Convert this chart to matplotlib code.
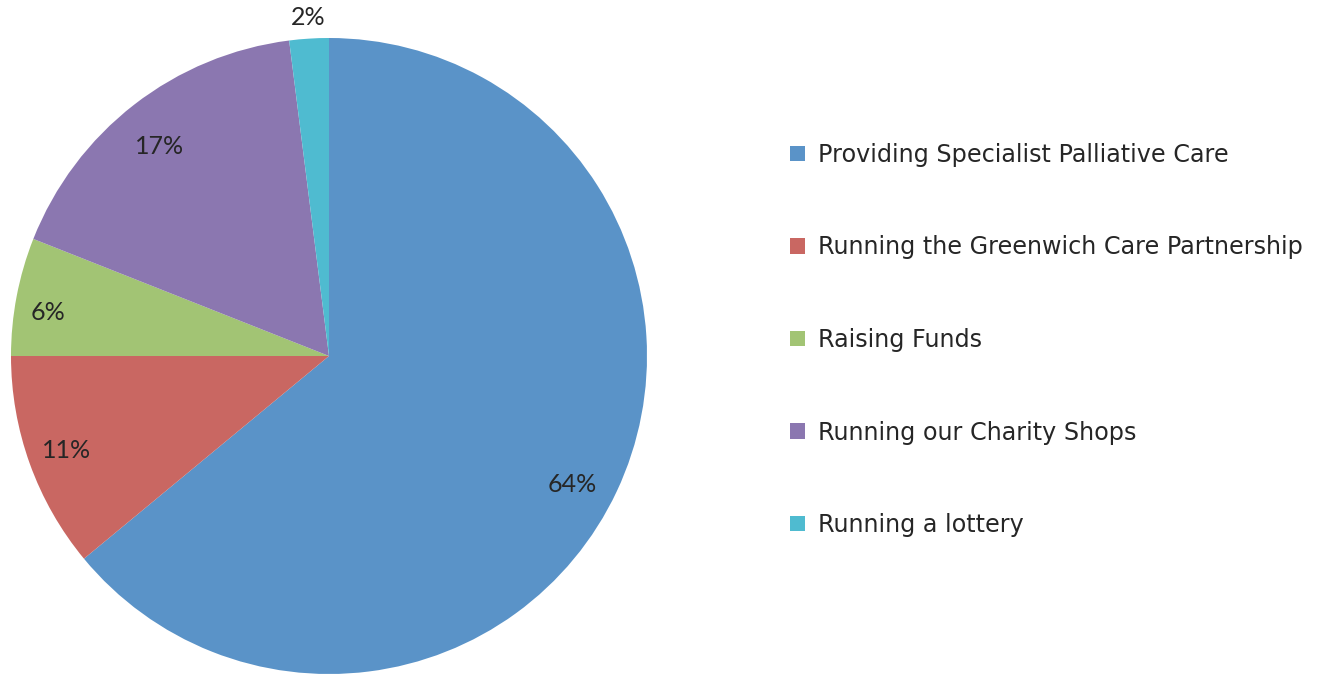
import matplotlib.pyplot as plt
import numpy as np

labels = ["Providing Specialist Palliative Care", "Running the Greenwich Care Partnership",
          "Raising Funds", "Running our Charity Shops", "Running a lottery"]
values = [64, 11, 6, 17, 2]
colors = ["#5A93C8", "#C96762", "#A2C474", "#8B77B0", "#4FBBD0"]
# percent label placement: (fraction of radius, angle nudge in degrees)
label_pos = [(0.862, -2.4), (0.874, -0.3), (0.895, 1.5), (0.851, 0.9), (1.072, -0.1)]

fig = plt.figure(figsize=(13.25, 6.74), dpi=100)
ax = fig.add_axes([11 / 1325, 0, 636 / 1325, 636 / 674])

wedges, _ = ax.pie(values, colors=colors, startangle=90, counterclock=False,
                   radius=1, wedgeprops=dict(linewidth=0))
ax.set_xlim(-1, 1)
ax.set_ylim(-1, 1)
ax.set_aspect("equal")
ax.axis("off")

# percent labels
for w, v, (d, nudge) in zip(wedges, values, label_pos):
    ang = np.deg2rad((w.theta1 + w.theta2) / 2 + nudge)
    ax.text(d * np.cos(ang), d * np.sin(ang), f"{v}%", ha="center", va="center_baseline",
            fontsize=18, color="#262626", family="Lato", clip_on=False)

fig.legend(wedges, labels, loc="center left", bbox_to_anchor=(790 / 1325, 1 - 340 / 674),
           frameon=False, prop=dict(family="DejaVu Sans", size=17.2), labelcolor="#262626",
           handlelength=0.62, handleheight=0.62, handletextpad=0.55,
           labelspacing=2.87, borderpad=0, borderaxespad=0)

fig.savefig("out.png", dpi=100)
